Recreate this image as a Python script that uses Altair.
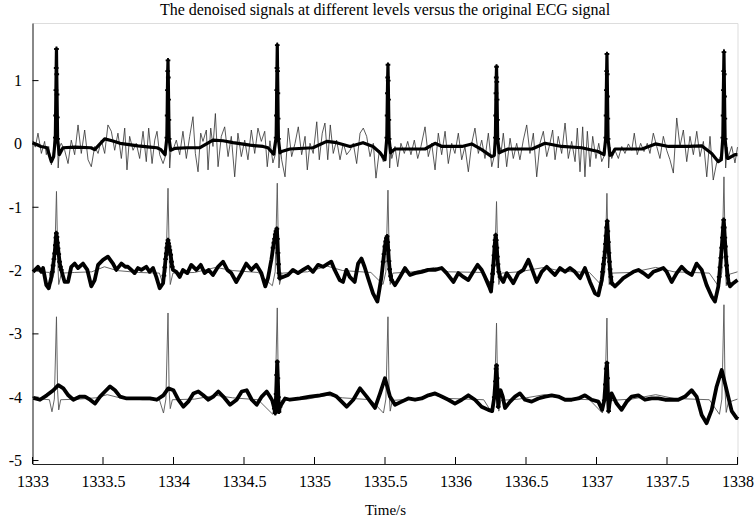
import altair as alt
import pandas as pd

# ---------------- data ----------------
R_TIMES = [1333.170, 1333.961, 1334.736, 1335.521, 1336.291, 1337.074, 1337.904]
X_TICKS = [1333, 1333.5, 1334, 1334.5, 1335, 1335.5, 1336, 1336.5, 1337, 1337.5, 1338]
Y_TICKS = [-5, -4, -3, -2, -1, 0, 1]

# original noisy ECG (thin, top)
TOP_NOISY = [
    (1333.000, 0.05), (1333.020, -0.05), (1333.039, 0.17), (1333.063, -0.15), (1333.086, 0.04),
    (1333.098, -0.17), (1333.115, -0.04), (1333.134, -0.33), (1333.150, -0.10), (1333.160, 0.30),
    (1333.170, 1.52), (1333.176, 0.25), (1333.182, -0.38), (1333.192, -0.05), (1333.204, 0.01),
    (1333.228, -0.10), (1333.252, -0.31), (1333.275, 0.06), (1333.299, -0.17), (1333.323, 0.30),
    (1333.346, -0.15), (1333.370, 0.22), (1333.394, -0.25), (1333.417, -0.36), (1333.441, -0.04),
    (1333.465, -0.15), (1333.488, 0.06), (1333.512, -0.15), (1333.535, 0.30), (1333.559, 0.20),
    (1333.583, -0.10), (1333.606, 0.17), (1333.630, -0.23), (1333.654, 0.25), (1333.670, -0.41),
    (1333.689, 0.12), (1333.713, -0.10), (1333.736, 0.01), (1333.760, -0.23), (1333.784, 0.20),
    (1333.807, -0.28), (1333.824, 0.25), (1333.848, -0.31), (1333.867, 0.06), (1333.883, 0.20),
    (1333.902, -0.17), (1333.926, -0.31), (1333.949, -0.15), (1333.955, 0.30), (1333.961, 1.30),
    (1333.967, 0.25), (1333.973, -0.38), (1333.983, -0.05), (1333.996, -0.10), (1334.020, 0.06),
    (1334.044, -0.17), (1334.067, 0.20), (1334.091, -0.23), (1334.115, 0.12), (1334.138, 0.43),
    (1334.155, -0.15), (1334.174, -0.44), (1334.193, 0.17), (1334.209, 0.04), (1334.233, 0.22),
    (1334.245, -0.41), (1334.264, 0.25), (1334.280, -0.04), (1334.297, 0.48), (1334.316, -0.36),
    (1334.339, 0.12), (1334.363, 0.27), (1334.387, -0.20), (1334.410, 0.12), (1334.434, -0.52),
    (1334.457, 0.17), (1334.481, -0.20), (1334.505, 0.06), (1334.528, -0.25), (1334.552, 0.22),
    (1334.576, -0.15), (1334.599, 0.25), (1334.623, 0.04), (1334.647, 0.20), (1334.665, -0.36),
    (1334.684, 0.05), (1334.705, -0.30), (1334.724, -0.15), (1334.730, 0.30), (1334.736, 1.60),
    (1334.742, 0.25), (1334.748, -0.38), (1334.758, -0.05), (1334.767, -0.25), (1334.791, -0.52),
    (1334.814, 0.25), (1334.838, -0.20), (1334.862, 0.01), (1334.885, 0.27), (1334.909, -0.17),
    (1334.933, 0.12), (1334.949, -0.41), (1334.968, 0.01), (1334.991, -0.15), (1335.016, 0.35),
    (1335.034, -0.25), (1335.055, 0.17), (1335.074, 0.33), (1335.094, -0.25), (1335.112, 0.30),
    (1335.133, -0.15), (1335.157, 0.06), (1335.181, -0.25), (1335.204, 0.01), (1335.228, -0.17),
    (1335.252, -0.10), (1335.275, 0.01), (1335.299, -0.31), (1335.323, 0.17), (1335.346, 0.25),
    (1335.370, 0.12), (1335.394, -0.20), (1335.417, 0.01), (1335.436, -0.54), (1335.460, -0.10),
    (1335.488, -0.28), (1335.509, -0.15), (1335.515, 0.30), (1335.521, 1.28), (1335.527, 0.25),
    (1335.533, -0.38), (1335.543, -0.05), (1335.548, -0.23), (1335.571, -0.04), (1335.590, -0.36),
    (1335.613, 0.01), (1335.637, -0.15), (1335.661, 0.04), (1335.684, -0.17), (1335.708, 0.06),
    (1335.732, -0.23), (1335.755, -0.04), (1335.784, 0.27), (1335.807, -0.20), (1335.831, 0.01),
    (1335.855, -0.41), (1335.878, 0.17), (1335.902, -0.17), (1335.926, 0.20), (1335.949, -0.31),
    (1335.973, 0.01), (1335.996, -0.15), (1336.020, 0.17), (1336.044, -0.25), (1336.067, -0.04),
    (1336.091, -0.44), (1336.115, 0.01), (1336.138, 0.25), (1336.162, -0.15), (1336.186, 0.06),
    (1336.209, -0.23), (1336.233, 0.17), (1336.257, -0.36), (1336.279, -0.15), (1336.285, 0.30),
    (1336.291, 1.25), (1336.297, 0.25), (1336.303, -0.38), (1336.313, -0.05), (1336.325, -0.10),
    (1336.339, 0.17), (1336.363, -0.36), (1336.387, 0.09), (1336.410, -0.23), (1336.434, 0.01),
    (1336.457, -0.25), (1336.481, 0.06), (1336.505, 0.30), (1336.528, -0.15), (1336.552, 0.17),
    (1336.576, -0.52), (1336.599, 0.01), (1336.623, 0.20), (1336.647, -0.20), (1336.670, 0.01),
    (1336.689, 0.22), (1336.706, -0.25), (1336.729, 0.12), (1336.753, -0.15), (1336.777, 0.33),
    (1336.800, -0.23), (1336.824, 0.04), (1336.848, -0.28), (1336.864, 0.25), (1336.883, -0.44),
    (1336.902, 0.27), (1336.918, -0.52), (1336.935, 0.20), (1336.954, -0.36), (1336.973, 0.12),
    (1336.996, -0.23), (1337.016, 0.01), (1337.037, -0.28), (1337.062, -0.15), (1337.068, 0.30),
    (1337.074, 1.45), (1337.080, 0.25), (1337.086, -0.38), (1337.096, -0.05), (1337.108, -0.23),
    (1337.131, -0.10), (1337.155, -0.23), (1337.179, -0.04), (1337.202, -0.15), (1337.226, 0.00),
    (1337.250, -0.10), (1337.268, 0.17), (1337.289, -0.17), (1337.313, 0.01), (1337.337, -0.12),
    (1337.360, 0.01), (1337.379, -0.15), (1337.403, 0.17), (1337.427, -0.04), (1337.450, -0.23),
    (1337.474, 0.12), (1337.498, -0.10), (1337.521, -0.25), (1337.545, -0.46), (1337.569, 0.41),
    (1337.592, -0.04), (1337.616, 0.22), (1337.640, -0.28), (1337.663, 0.12), (1337.687, -0.17),
    (1337.711, 0.20), (1337.734, -0.20), (1337.758, 0.04), (1337.782, -0.52), (1337.805, 0.12),
    (1337.828, -0.57), (1337.852, -0.30), (1337.892, -0.15), (1337.898, 0.30), (1337.904, 1.50),
    (1337.910, 0.25), (1337.916, -0.38), (1337.926, -0.05), (1337.935, -0.20), (1337.959, -0.04),
    (1337.982, -0.30), (1338.000, -0.05),
]

# denoised signal, top band (thick)
TOP_DENOISED = [
    (1333.000, 0.02), (1333.060, -0.04), (1333.103, -0.06), (1333.134, -0.28), (1333.150, -0.20),
    (1333.162, 0.10), (1333.164, 0.45), (1333.166, 0.85), (1333.168, 1.20), (1333.170, 1.50),
    (1333.172, 1.10), (1333.174, 0.78), (1333.176, 0.42), (1333.178, 0.08), (1333.190, -0.17),
    (1333.216, -0.06), (1333.301, -0.05), (1333.415, -0.06), (1333.441, -0.09), (1333.512, 0.08),
    (1333.564, 0.05), (1333.621, 0.01), (1333.748, -0.03), (1333.833, -0.05), (1333.883, -0.06),
    (1333.911, -0.09), (1333.940, -0.17), (1333.953, 0.10), (1333.955, 0.45), (1333.957, 0.85),
    (1333.959, 1.15), (1333.961, 1.32), (1333.963, 1.05), (1333.965, 0.70), (1333.967, 0.38),
    (1333.969, 0.08), (1333.980, -0.10), (1334.010, -0.07), (1334.096, -0.06), (1334.188, -0.06),
    (1334.280, 0.06), (1334.351, 0.05), (1334.422, 0.02), (1334.543, -0.02), (1334.635, -0.04),
    (1334.670, -0.06), (1334.710, -0.16), (1334.728, 0.10), (1334.730, 0.45), (1334.732, 0.85),
    (1334.734, 1.20), (1334.736, 1.56), (1334.738, 1.15), (1334.740, 0.80), (1334.742, 0.40),
    (1334.744, 0.08), (1334.755, -0.14), (1334.767, -0.12), (1334.826, -0.08), (1334.989, -0.06),
    (1335.087, 0.04), (1335.157, 0.02), (1335.252, -0.04), (1335.344, 0.02), (1335.415, -0.04),
    (1335.465, -0.14), (1335.500, -0.25), (1335.513, 0.10), (1335.515, 0.45), (1335.517, 0.80),
    (1335.519, 1.05), (1335.521, 1.25), (1335.523, 1.00), (1335.525, 0.70), (1335.527, 0.38),
    (1335.529, 0.08), (1335.540, -0.14), (1335.548, -0.12), (1335.571, -0.08), (1335.784, -0.08),
    (1335.855, 0.01), (1335.904, -0.04), (1336.046, -0.04), (1336.115, 0.00), (1336.186, -0.09),
    (1336.257, -0.20), (1336.275, -0.18), (1336.283, 0.10), (1336.285, 0.45), (1336.287, 0.80),
    (1336.289, 1.05), (1336.291, 1.22), (1336.293, 0.98), (1336.295, 0.70), (1336.297, 0.38),
    (1336.299, 0.08), (1336.310, -0.14), (1336.328, -0.12), (1336.372, -0.08), (1336.543, -0.08),
    (1336.635, 0.01), (1336.753, -0.04), (1336.895, -0.06), (1337.011, -0.12), (1337.053, -0.17),
    (1337.066, 0.10), (1337.068, 0.45), (1337.070, 0.85), (1337.072, 1.15), (1337.074, 1.42),
    (1337.076, 1.10), (1337.078, 0.75), (1337.080, 0.40), (1337.082, 0.08), (1337.095, -0.18),
    (1337.108, -0.17), (1337.131, -0.08), (1337.323, -0.08), (1337.418, 0.00), (1337.511, -0.04),
    (1337.652, -0.04), (1337.746, -0.03), (1337.817, -0.15), (1337.864, -0.28), (1337.885, -0.25),
    (1337.896, 0.10), (1337.898, 0.45), (1337.900, 0.85), (1337.902, 1.15), (1337.904, 1.45),
    (1337.906, 1.10), (1337.908, 0.75), (1337.910, 0.40), (1337.912, 0.08), (1337.925, -0.22),
    (1337.933, -0.23), (1337.982, -0.17), (1338.000, -0.17),
]

# original ECG shifted to -2 (thin, middle)
MID_ORIGINAL = [
    (1333.000, -2.00), (1333.060, -2.02), (1333.120, -2.03), (1333.135, -2.20), (1333.155, -2.02),
    (1333.170, -0.75), (1333.180, -1.90), (1333.186, -2.22), (1333.205, -2.04), (1333.300, -2.03),
    (1333.420, -2.02), (1333.510, -1.94), (1333.600, -2.00), (1333.750, -2.03), (1333.900, -2.04),
    (1333.926, -2.22), (1333.946, -2.02), (1333.961, -0.70), (1333.971, -1.90), (1333.977, -2.22),
    (1333.996, -2.04), (1334.150, -2.03), (1334.300, -1.95), (1334.420, -2.00), (1334.600, -2.03),
    (1334.701, -2.24), (1334.721, -2.02), (1334.736, -0.62), (1334.746, -1.90), (1334.752, -2.22),
    (1334.771, -2.04), (1334.950, -2.02), (1335.090, -1.93), (1335.200, -2.00), (1335.400, -2.03),
    (1335.486, -2.22), (1335.506, -2.02), (1335.521, -0.73), (1335.531, -1.90), (1335.537, -2.22),
    (1335.556, -2.04), (1335.700, -2.02), (1335.850, -1.95), (1335.950, -2.02), (1336.200, -2.03),
    (1336.256, -2.24), (1336.276, -2.02), (1336.291, -0.91), (1336.301, -1.90), (1336.307, -2.22),
    (1336.326, -2.04), (1336.450, -2.02), (1336.630, -1.95), (1336.750, -2.01), (1336.950, -2.03),
    (1337.039, -2.24), (1337.059, -2.02), (1337.074, -0.78), (1337.084, -1.90), (1337.090, -2.22),
    (1337.109, -2.04), (1337.250, -2.03), (1337.420, -1.95), (1337.550, -2.02), (1337.800, -2.04),
    (1337.869, -2.26), (1337.889, -2.02), (1337.904, -0.52), (1337.914, -1.90), (1337.920, -2.24),
    (1337.940, -2.06), (1338.000, -2.02),
]

# denoised signal, middle band (thick)
MID_DENOISED = [
    (1333.004, -2.02), (1333.039, -1.94), (1333.063, -2.02), (1333.075, -1.96), (1333.098, -2.23),
    (1333.115, -2.28), (1333.134, -2.10), (1333.140, -2.02), (1333.146, -1.92), (1333.152, -1.82),
    (1333.157, -1.73), (1333.162, -1.60), (1333.166, -1.48), (1333.169, -1.41), (1333.173, -1.47),
    (1333.177, -1.56), (1333.181, -1.65), (1333.186, -1.74), (1333.192, -1.86), (1333.198, -1.94),
    (1333.204, -1.99), (1333.228, -2.18), (1333.252, -2.18), (1333.275, -1.94), (1333.299, -1.89),
    (1333.323, -1.96), (1333.358, -1.89), (1333.389, -1.99), (1333.417, -2.25), (1333.441, -2.15),
    (1333.465, -1.91), (1333.500, -1.83), (1333.535, -1.78), (1333.571, -1.89), (1333.594, -1.99),
    (1333.630, -1.89), (1333.658, -1.94), (1333.677, -1.94), (1333.701, -1.99), (1333.724, -2.04),
    (1333.748, -1.96), (1333.772, -1.99), (1333.807, -1.94), (1333.831, -2.02), (1333.855, -1.96),
    (1333.878, -2.10), (1333.902, -2.28), (1333.926, -2.20), (1333.932, -2.08), (1333.938, -1.95),
    (1333.944, -1.82), (1333.949, -1.73), (1333.953, -1.64), (1333.957, -1.57), (1333.961, -1.52),
    (1333.965, -1.57), (1333.969, -1.62), (1333.974, -1.68), (1333.980, -1.75), (1333.986, -1.86),
    (1333.991, -1.94), (1333.996, -1.99), (1334.020, -2.02), (1334.044, -2.10), (1334.067, -1.99),
    (1334.098, -2.04), (1334.126, -1.91), (1334.162, -1.99), (1334.193, -1.91), (1334.221, -2.04),
    (1334.249, -1.99), (1334.280, -2.07), (1334.316, -1.94), (1334.351, -1.86), (1334.382, -1.99),
    (1334.410, -2.04), (1334.445, -2.18), (1334.481, -2.04), (1334.516, -1.89), (1334.552, -1.99),
    (1334.587, -1.91), (1334.623, -2.04), (1334.651, -2.25), (1334.670, -2.12), (1334.680, -2.00),
    (1334.688, -1.90), (1334.694, -1.83), (1334.700, -1.74), (1334.706, -1.64), (1334.712, -1.56),
    (1334.717, -1.50), (1334.722, -1.43), (1334.727, -1.38), (1334.733, -1.34), (1334.737, -1.50),
    (1334.741, -1.72), (1334.745, -1.90), (1334.749, -2.04), (1334.753, -2.12), (1334.776, -2.10),
    (1334.812, -2.07), (1334.847, -1.99), (1334.883, -2.04), (1334.918, -1.99), (1334.954, -1.94),
    (1334.989, -2.02), (1335.025, -1.91), (1335.060, -1.94), (1335.096, -1.89), (1335.119, -1.86),
    (1335.143, -1.99), (1335.179, -2.15), (1335.202, -2.18), (1335.226, -1.99), (1335.250, -2.10),
    (1335.285, -2.18), (1335.309, -1.89), (1335.333, -1.81), (1335.355, -1.94), (1335.380, -2.12),
    (1335.415, -2.36), (1335.446, -2.49), (1335.475, -2.10), (1335.481, -1.98), (1335.487, -1.86),
    (1335.493, -1.74), (1335.499, -1.62), (1335.505, -1.54), (1335.510, -1.49), (1335.515, -1.46),
    (1335.519, -1.55), (1335.523, -1.68), (1335.528, -1.85), (1335.533, -1.98), (1335.540, -2.09),
    (1335.547, -2.15), (1335.571, -2.23), (1335.606, -2.10), (1335.642, -1.96), (1335.677, -2.07),
    (1335.713, -2.04), (1335.760, -2.02), (1335.807, -1.99), (1335.855, -1.99), (1335.902, -1.96),
    (1335.937, -2.04), (1335.985, -2.18), (1336.020, -2.04), (1336.056, -2.10), (1336.091, -2.15),
    (1336.126, -2.02), (1336.157, -1.91), (1336.186, -1.99), (1336.209, -2.10), (1336.238, -2.25),
    (1336.252, -2.33), (1336.258, -2.18), (1336.263, -2.05), (1336.268, -1.92), (1336.273, -1.76),
    (1336.277, -1.62), (1336.281, -1.52), (1336.285, -1.44), (1336.289, -1.52), (1336.293, -1.64),
    (1336.297, -1.78), (1336.301, -1.90), (1336.307, -2.02), (1336.316, -2.10), (1336.339, -2.18),
    (1336.363, -2.04), (1336.387, -2.12), (1336.410, -2.20), (1336.446, -2.04), (1336.481, -1.99),
    (1336.517, -1.83), (1336.540, -1.96), (1336.576, -2.18), (1336.611, -2.02), (1336.647, -1.94),
    (1336.682, -2.02), (1336.706, -2.07), (1336.741, -1.96), (1336.777, -2.02), (1336.812, -1.96),
    (1336.847, -2.02), (1336.883, -2.12), (1336.918, -1.96), (1336.954, -2.18), (1336.989, -2.36),
    (1337.013, -2.39), (1337.037, -2.15), (1337.043, -2.02), (1337.049, -1.90), (1337.055, -1.80),
    (1337.060, -1.70), (1337.064, -1.58), (1337.068, -1.45), (1337.072, -1.32), (1337.076, -1.22),
    (1337.080, -1.38), (1337.084, -1.55), (1337.088, -1.72), (1337.092, -1.86), (1337.096, -1.98),
    (1337.102, -2.10), (1337.108, -2.20), (1337.131, -2.25), (1337.155, -2.20), (1337.190, -2.12),
    (1337.226, -2.07), (1337.261, -2.02), (1337.297, -1.99), (1337.332, -2.04), (1337.368, -2.10),
    (1337.403, -2.02), (1337.438, -1.99), (1337.474, -1.96), (1337.498, -2.02), (1337.533, -2.18),
    (1337.569, -2.04), (1337.604, -1.94), (1337.639, -2.02), (1337.675, -2.07), (1337.710, -1.89),
    (1337.746, -1.99), (1337.781, -2.23), (1337.817, -2.41), (1337.840, -2.49), (1337.864, -2.25),
    (1337.870, -2.10), (1337.876, -1.95), (1337.882, -1.80), (1337.888, -1.64), (1337.893, -1.48),
    (1337.898, -1.32), (1337.902, -1.20), (1337.906, -1.32), (1337.910, -1.48), (1337.914, -1.62),
    (1337.918, -1.78), (1337.923, -1.92), (1337.930, -2.08), (1337.938, -2.20), (1337.947, -2.25),
    (1337.970, -2.20), (1338.000, -2.15),
]

# original ECG shifted to -4 (thin, bottom)
BOT_ORIGINAL = [
    (1333.000, -4.00), (1333.070, -4.03), (1333.120, -4.04), (1333.138, -4.23), (1333.155, -4.03),
    (1333.170, -2.73), (1333.178, -3.90), (1333.186, -4.20), (1333.200, -4.04), (1333.330, -4.03),
    (1333.450, -4.01), (1333.530, -3.96), (1333.620, -4.01), (1333.780, -4.04), (1333.900, -4.04),
    (1333.929, -4.25), (1333.946, -4.03), (1333.961, -2.67), (1333.969, -3.90), (1333.977, -4.18),
    (1333.992, -4.04), (1334.150, -4.03), (1334.300, -3.97), (1334.420, -4.01), (1334.600, -4.04),
    (1334.704, -4.27), (1334.721, -4.03), (1334.736, -2.59), (1334.744, -3.90), (1334.752, -4.22),
    (1334.767, -4.05), (1334.950, -4.03), (1335.090, -3.97), (1335.200, -4.01), (1335.400, -4.04),
    (1335.489, -4.25), (1335.506, -4.03), (1335.521, -2.73), (1335.529, -3.90), (1335.537, -4.22),
    (1335.552, -4.05), (1335.700, -4.03), (1335.850, -3.97), (1335.950, -4.02), (1336.200, -4.04),
    (1336.259, -4.25), (1336.276, -4.03), (1336.291, -2.83), (1336.299, -3.90), (1336.307, -4.22),
    (1336.322, -4.05), (1336.450, -4.03), (1336.630, -3.96), (1336.750, -4.02), (1336.950, -4.04),
    (1337.042, -4.25), (1337.059, -4.03), (1337.074, -2.75), (1337.082, -3.90), (1337.090, -4.22),
    (1337.105, -4.05), (1337.250, -4.03), (1337.420, -3.96), (1337.550, -4.02), (1337.800, -4.04),
    (1337.872, -4.27), (1337.889, -4.03), (1337.904, -2.54), (1337.912, -3.90), (1337.920, -4.24),
    (1337.935, -4.08), (1338.000, -4.03),
]

# denoised signal, bottom band (thick)
BOT_DENOISED = [
    (1333.006, -4.01), (1333.053, -4.04), (1333.101, -3.97), (1333.148, -3.89), (1333.183, -3.81),
    (1333.219, -3.86), (1333.254, -3.97), (1333.290, -4.04), (1333.337, -3.99), (1333.372, -3.99),
    (1333.408, -4.04), (1333.443, -4.10), (1333.479, -3.99), (1333.514, -3.91), (1333.550, -3.83),
    (1333.585, -3.89), (1333.621, -3.99), (1333.668, -4.02), (1333.762, -4.02), (1333.833, -4.02),
    (1333.881, -4.04), (1333.928, -3.97), (1333.963, -3.86), (1333.999, -3.89), (1334.034, -4.04),
    (1334.070, -4.15), (1334.105, -4.07), (1334.141, -3.94), (1334.176, -3.91), (1334.211, -3.97),
    (1334.247, -4.04), (1334.282, -3.99), (1334.318, -3.91), (1334.353, -3.99), (1334.401, -4.12),
    (1334.448, -4.04), (1334.484, -3.91), (1334.519, -3.89), (1334.555, -4.04), (1334.590, -4.12),
    (1334.626, -3.99), (1334.661, -3.91), (1334.684, -3.99), (1334.700, -4.05), (1334.715, -4.18),
    (1334.722, -4.25), (1334.728, -3.95), (1334.732, -3.65), (1334.736, -3.44), (1334.740, -3.70),
    (1334.744, -4.00), (1334.748, -4.23), (1334.755, -4.15), (1334.791, -4.02), (1334.826, -4.04),
    (1334.897, -4.02), (1334.968, -3.99), (1335.039, -3.97), (1335.110, -3.94), (1335.157, -3.99),
    (1335.228, -4.15), (1335.275, -4.04), (1335.323, -3.86), (1335.370, -3.99), (1335.429, -4.17),
    (1335.465, -3.94), (1335.500, -3.70), (1335.535, -3.99), (1335.571, -4.12), (1335.618, -4.07),
    (1335.665, -4.02), (1335.713, -4.04), (1335.760, -4.02), (1335.807, -3.97), (1335.855, -3.94),
    (1335.902, -3.99), (1335.949, -4.04), (1335.996, -4.10), (1336.044, -4.04), (1336.091, -3.97),
    (1336.138, -4.04), (1336.185, -4.15), (1336.233, -4.20), (1336.260, -4.22), (1336.275, -4.00),
    (1336.283, -3.75), (1336.288, -3.55), (1336.291, -3.50), (1336.295, -3.70), (1336.299, -3.95),
    (1336.303, -4.15), (1336.310, -3.95), (1336.320, -3.89), (1336.335, -3.99), (1336.351, -4.17),
    (1336.387, -4.07), (1336.422, -3.99), (1336.457, -3.94), (1336.493, -4.04), (1336.540, -4.07),
    (1336.587, -4.02), (1336.635, -3.99), (1336.682, -3.97), (1336.729, -3.99), (1336.777, -4.04),
    (1336.824, -4.04), (1336.871, -4.02), (1336.918, -3.97), (1336.966, -4.04), (1337.013, -4.07),
    (1337.040, -4.20), (1337.055, -4.05), (1337.063, -3.80), (1337.069, -3.55), (1337.074, -3.46),
    (1337.078, -3.70), (1337.082, -4.00), (1337.086, -4.22), (1337.095, -4.05), (1337.107, -3.94),
    (1337.143, -4.10), (1337.178, -4.20), (1337.214, -4.07), (1337.249, -3.99), (1337.297, -3.97),
    (1337.344, -4.04), (1337.391, -4.02), (1337.439, -4.02), (1337.486, -4.04), (1337.533, -4.04),
    (1337.580, -4.04), (1337.628, -3.99), (1337.675, -3.89), (1337.710, -3.99), (1337.746, -4.28),
    (1337.781, -4.41), (1337.817, -4.20), (1337.852, -3.83), (1337.888, -3.57), (1337.923, -3.89),
    (1337.959, -4.22), (1337.994, -4.33), (1338.000, -4.30),
]

# ---------------- build table ----------------
def frame(pairs, name):
    return pd.DataFrame({"t": [p[0] for p in pairs], "v": [p[1] for p in pairs], "series": name})

def near(ts, beats, win):
    return [any(abs(t - R_TIMES[b]) <= win for b in beats) for t in ts]

top_thin = frame(TOP_NOISY, "top_orig")
mid_thin = frame(MID_ORIGINAL, "mid_orig")
bot_thin = frame(BOT_ORIGINAL, "bot_orig")
top_thick = frame(TOP_DENOISED, "top_den")
mid_thick = frame(MID_DENOISED, "mid_den")
bot_thick = frame(BOT_DENOISED, "bot_den")

marks_df = pd.concat([
    top_thick[near(top_thick.t, range(7), 0.009)],
    mid_thick[near(mid_thick.t, range(7), 0.035)],
    bot_thick[near(bot_thick.t, [2, 4, 5], 0.022)],
])

FONT = "Liberation Serif"
XS = alt.Scale(domain=[1333, 1338], nice=False, zero=False)
YS = alt.Scale(domain=[-5.055, 1.91], nice=False, zero=False)

x_enc = alt.X("t:Q", scale=XS, title="Time/s",
              axis=alt.Axis(values=X_TICKS, labelExpr="'' + datum.value", ticks=False,
                            grid=False, labelPadding=9, labelFlush=False, titlePadding=13))
y_enc = alt.Y("v:Q", scale=YS, title=None,
              axis=alt.Axis(values=Y_TICKS, labelExpr="'' + datum.value", ticks=False,
                            grid=False, labelPadding=11))

def line(df, width, color):
    return alt.Chart(df).mark_line(strokeWidth=width, color=color, strokeJoin="round").encode(
        x=alt.X("t:Q"), y=alt.Y("v:Q"))

base = alt.Chart(top_thin).mark_line(strokeWidth=0.8, color="#303030").encode(x=x_enc, y=y_enc)

layers = [
    base,
    line(mid_thin, 0.9, "#555555"),
    line(bot_thin, 0.9, "#555555"),
    line(top_thick, 3.2, "black"),
    line(mid_thick, 3.8, "black"),
    line(bot_thick, 3.8, "black"),
    alt.Chart(marks_df).mark_point(shape="cross", filled=True, size=22, color="black", opacity=1).encode(
        x=alt.X("t:Q"), y=alt.Y("v:Q")),
    alt.Chart(pd.DataFrame({"t": X_TICKS})).mark_rule(color="black", strokeWidth=1).encode(
        x=alt.X("t:Q"), y=alt.value(441), y2=alt.value(434)),
    alt.Chart(pd.DataFrame({"v": Y_TICKS})).mark_rule(color="black", strokeWidth=1).encode(
        y=alt.Y("v:Q"), x=alt.value(0), x2=alt.value(6)),
]

chart = alt.layer(*layers).properties(
    width=705,
    height=441,
    autosize=alt.AutoSizeParams(type="none"),
    padding={"left": 32.5, "top": 23, "right": 17.5, "bottom": 57},
    title=alt.TitleParams(
        "The denoised signals at different levels versus the original ECG signal",
        font=FONT, fontSize=16, fontWeight="normal", color="black", anchor="middle", offset=5),
).configure_view(stroke=None).configure(background="white").configure_axis(
    labelFont=FONT, labelFontSize=16, labelColor="black",
    titleFont=FONT, titleFontSize=15, titleFontWeight="normal", titleColor="black",
    domainColor="#222222", domainWidth=1,
)

chart.save("out.html", embed_options={"renderer": "svg", "actions": False})
